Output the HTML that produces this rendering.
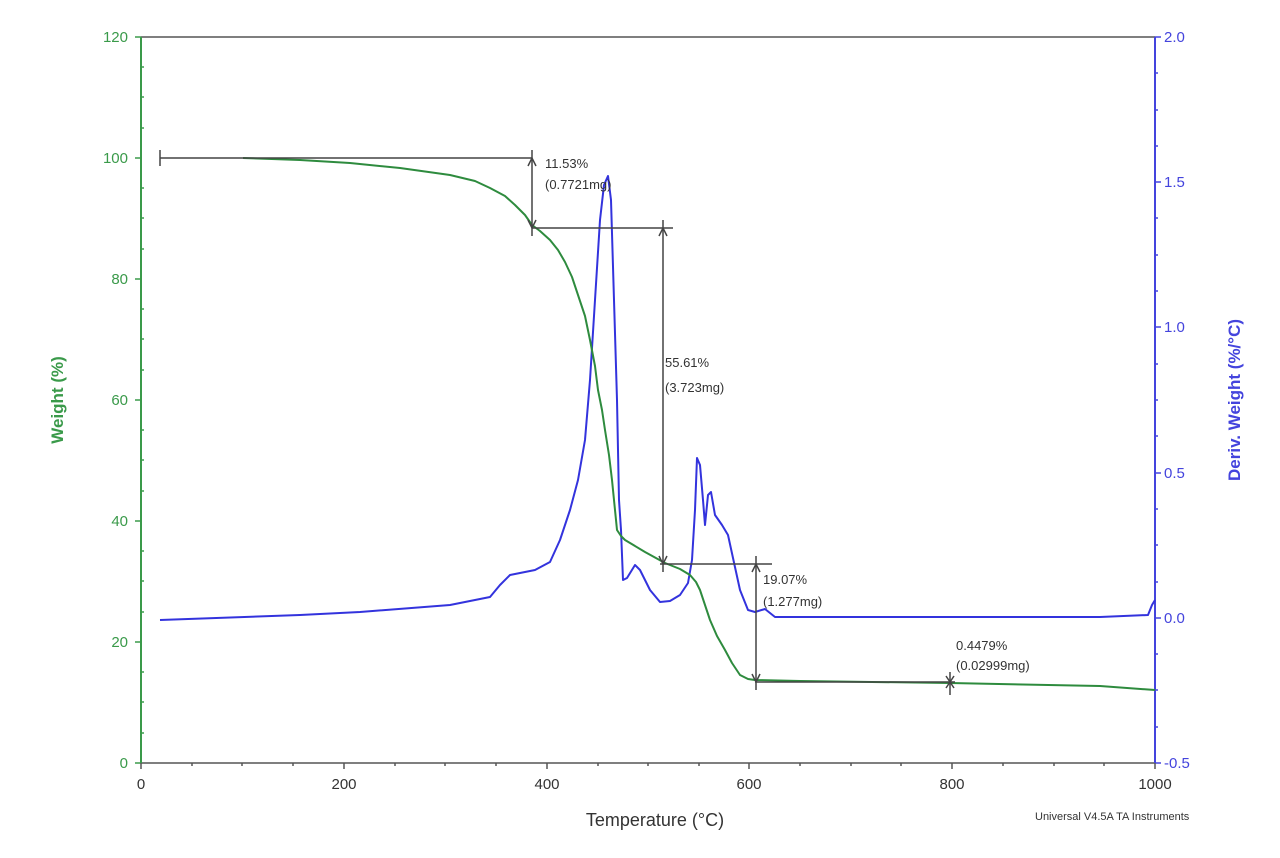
<!DOCTYPE html>
<html><head><meta charset="utf-8"><style>
body{margin:0;background:#fff;}
svg text{font-family:"Liberation Sans",sans-serif;}
</style></head><body>
<svg width="1280" height="853" viewBox="0 0 1280 853" xmlns="http://www.w3.org/2000/svg">
<rect width="1280" height="853" fill="#fff"/>
<!-- frame -->
<line x1="141" y1="37" x2="1155" y2="37" stroke="#555" stroke-width="1.5"/>
<line x1="141" y1="763" x2="1155" y2="763" stroke="#555" stroke-width="1.5"/>
<line x1="141" y1="37" x2="141" y2="763" stroke="#3a9a4a" stroke-width="2"/>
<line x1="1155" y1="37" x2="1155" y2="763" stroke="#4444dd" stroke-width="2"/>
<g stroke="#3a9a4a" stroke-width="1.5">
<line x1="135" y1="37" x2="141" y2="37"/><line x1="135" y1="158" x2="141" y2="158"/><line x1="135" y1="279" x2="141" y2="279"/><line x1="135" y1="400" x2="141" y2="400"/><line x1="135" y1="521" x2="141" y2="521"/><line x1="135" y1="642" x2="141" y2="642"/><line x1="135" y1="763" x2="141" y2="763"/>
</g>
<g stroke="#3a9a4a" stroke-width="1.5">
<line x1="141" y1="67" x2="144" y2="67"/><line x1="141" y1="97" x2="144" y2="97"/><line x1="141" y1="128" x2="144" y2="128"/>
<line x1="141" y1="188" x2="144" y2="188"/><line x1="141" y1="218" x2="144" y2="218"/><line x1="141" y1="249" x2="144" y2="249"/>
<line x1="141" y1="309" x2="144" y2="309"/><line x1="141" y1="339" x2="144" y2="339"/><line x1="141" y1="370" x2="144" y2="370"/>
<line x1="141" y1="430" x2="144" y2="430"/><line x1="141" y1="460" x2="144" y2="460"/><line x1="141" y1="491" x2="144" y2="491"/>
<line x1="141" y1="551" x2="144" y2="551"/><line x1="141" y1="581" x2="144" y2="581"/><line x1="141" y1="612" x2="144" y2="612"/>
<line x1="141" y1="672" x2="144" y2="672"/><line x1="141" y1="702" x2="144" y2="702"/><line x1="141" y1="733" x2="144" y2="733"/>
</g>
<g fill="#3a9a4a" font-size="15" text-anchor="end">
<text x="128" y="42">120</text><text x="128" y="163">100</text><text x="128" y="284">80</text><text x="128" y="405">60</text><text x="128" y="526">40</text><text x="128" y="647">20</text><text x="128" y="768">0</text>
</g>
<g stroke="#4444dd" stroke-width="1.5">
<line x1="1155" y1="37" x2="1161" y2="37"/><line x1="1155" y1="182" x2="1161" y2="182"/><line x1="1155" y1="327" x2="1161" y2="327"/><line x1="1155" y1="473" x2="1161" y2="473"/><line x1="1155" y1="618" x2="1161" y2="618"/><line x1="1155" y1="763" x2="1161" y2="763"/>
<line x1="1155" y1="73" x2="1158" y2="73"/><line x1="1155" y1="110" x2="1158" y2="110"/><line x1="1155" y1="146" x2="1158" y2="146"/>
<line x1="1155" y1="218" x2="1158" y2="218"/><line x1="1155" y1="255" x2="1158" y2="255"/><line x1="1155" y1="291" x2="1158" y2="291"/>
<line x1="1155" y1="364" x2="1158" y2="364"/><line x1="1155" y1="400" x2="1158" y2="400"/><line x1="1155" y1="436" x2="1158" y2="436"/>
<line x1="1155" y1="509" x2="1158" y2="509"/><line x1="1155" y1="545" x2="1158" y2="545"/><line x1="1155" y1="582" x2="1158" y2="582"/>
<line x1="1155" y1="654" x2="1158" y2="654"/><line x1="1155" y1="690" x2="1158" y2="690"/><line x1="1155" y1="727" x2="1158" y2="727"/>
</g>
<g fill="#4444dd" font-size="15">
<text x="1164" y="42">2.0</text><text x="1164" y="187">1.5</text><text x="1164" y="332">1.0</text><text x="1164" y="478">0.5</text><text x="1164" y="623">0.0</text><text x="1164" y="768">-0.5</text>
</g>
<g stroke="#555" stroke-width="1.5">
<line x1="141" y1="763" x2="141" y2="769"/><line x1="344" y1="763" x2="344" y2="769"/><line x1="547" y1="763" x2="547" y2="769"/><line x1="749" y1="763" x2="749" y2="769"/><line x1="952" y1="763" x2="952" y2="769"/><line x1="1155" y1="763" x2="1155" y2="769"/>
<line x1="192" y1="763" x2="192" y2="766"/><line x1="242" y1="763" x2="242" y2="766"/><line x1="293" y1="763" x2="293" y2="766"/>
<line x1="395" y1="763" x2="395" y2="766"/><line x1="445" y1="763" x2="445" y2="766"/><line x1="496" y1="763" x2="496" y2="766"/>
<line x1="598" y1="763" x2="598" y2="766"/><line x1="648" y1="763" x2="648" y2="766"/><line x1="699" y1="763" x2="699" y2="766"/>
<line x1="800" y1="763" x2="800" y2="766"/><line x1="851" y1="763" x2="851" y2="766"/><line x1="901" y1="763" x2="901" y2="766"/>
<line x1="1003" y1="763" x2="1003" y2="766"/><line x1="1054" y1="763" x2="1054" y2="766"/><line x1="1104" y1="763" x2="1104" y2="766"/>
</g>
<g fill="#333" font-size="15" text-anchor="middle">
<text x="141" y="789">0</text><text x="344" y="789">200</text><text x="547" y="789">400</text><text x="749" y="789">600</text><text x="952" y="789">800</text><text x="1155" y="789">1000</text>
</g>
<text x="655" y="826" font-size="18" fill="#333" text-anchor="middle">Temperature (°C)</text>
<text transform="translate(63,400) rotate(-90)" font-size="17" font-weight="bold" fill="#3a9a4a" text-anchor="middle">Weight (%)</text>
<text transform="translate(1240,400) rotate(-90)" font-size="17" font-weight="bold" fill="#4444dd" text-anchor="middle">Deriv. Weight (%/°C)</text>
<text x="1035" y="820" font-size="11" fill="#333">Universal V4.5A TA Instruments</text>
<!-- blue -->
<polyline fill="none" stroke="#3333dd" stroke-width="2" stroke-linejoin="round" points="160,620 300,615 360,612 450,605 490,597 500,585 510,575 520,573 535,570 550,562 560,540 570,510 578,480 585,440 590,380 595,300 600,220 604,185 608,176 611,200 614,300 617,400 619,500 621,530 623,580 627,578 635,565 640,570 650,590 660,602 670,601 680,595 688,583 692,560 695,510 697,458 700,465 703,500 705,525 708,495 711,492 715,515 722,525 728,535 733,558 740,590 748,610 755,612 765,609 775,617 900,617 1100,617 1148,615 1152,605 1155,600"/>
<!-- green -->
<polyline fill="none" stroke="#2e8b3e" stroke-width="2" stroke-linejoin="round" points="243,158 300,160 350,163 400,168 450,175 475,181 490,188 505,196 515,205 525,215 532,225 540,231 550,240 558,250 565,262 572,277 578,295 585,316 590,340 595,366 598,390 602,410 605,430 609,455 612,480 615,510 617,530 621,536 625,540 645,552 665,563 680,569 690,575 696,582 700,590 705,605 710,620 717,636 725,650 732,663 740,675 748,679 755,680 800,681 950,683 1100,686 1155,690"/>
<!-- annotations -->
<g stroke="#444" stroke-width="1.5" fill="none">
<line x1="160" y1="158" x2="532" y2="158"/><line x1="160" y1="150" x2="160" y2="166"/>
<line x1="532" y1="150" x2="532" y2="236"/>
<line x1="532" y1="228" x2="673" y2="228"/>
<line x1="663" y1="220" x2="663" y2="572"/>
<line x1="660" y1="564" x2="772" y2="564"/>
<line x1="756" y1="556" x2="756" y2="690"/>
<line x1="755" y1="682" x2="955" y2="682"/>
<line x1="950" y1="672" x2="950" y2="695"/>
<path d="M528,166 L532,158 L536,166 M528,220 L532,228 L536,220 M659,236 L663,228 L667,236 M659,556 L663,564 L667,556 M752,572 L756,564 L760,572 M752,674 L756,682 L760,674 M946,676 L954,688 M954,676 L946,688"/>
</g>
<g fill="#333" font-size="13">
<text x="545" y="168">11.53%</text><text x="545" y="189">(0.7721mg)</text>
<text x="665" y="367">55.61%</text><text x="665" y="392">(3.723mg)</text>
<text x="763" y="584">19.07%</text><text x="763" y="606">(1.277mg)</text>
<text x="956" y="650">0.4479%</text><text x="956" y="670">(0.02999mg)</text>
</g>
</svg>
</body></html>
